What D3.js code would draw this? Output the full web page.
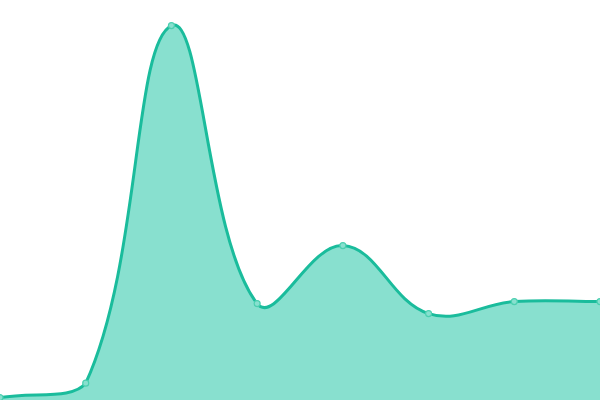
<!DOCTYPE html>
<html>
<head>
<meta charset="utf-8">
<script src="https://cdn.jsdelivr.net/npm/d3@7"></script>
<style>
  html, body { margin: 0; padding: 0; background: #fff; }
  svg { display: block; }
</style>
</head>
<body>
<div id="chart"></div>
<script>
// data
const categories = ["A", "B", "C", "D", "E", "F", "G", "H"];
const values = [0.6, 4.2, 93.6, 24.1, 38.6, 21.6, 24.6, 24.6];

(function(){
    const width = 600;
    const height = 400;

    // spline with distance weighted tangents, control points kept inside the plot
    // (no dip below the baseline at the first segment)
    function splineCurve(tension, yMin, yMax) {
        return function(context) {
            let pts, line;
            const clamp = v => Math.max(yMin, Math.min(yMax, v));
            return {
                areaStart() { line = 0; },
                areaEnd() { line = NaN; },
                lineStart() { pts = []; },
                point(x, y) { pts.push([+x, +y]); },
                lineEnd() {
                    const n = pts.length;
                    if (n) {
                        const cps = pts.map((p, i) => {
                            const prev = pts[Math.max(i - 1, 0)];
                            const next = pts[Math.min(i + 1, n - 1)];
                            const d01 = Math.hypot(p[0] - prev[0], p[1] - prev[1]);
                            const d12 = Math.hypot(next[0] - p[0], next[1] - p[1]);
                            let s01 = d01 / (d01 + d12), s12 = d12 / (d01 + d12);
                            if (isNaN(s01)) s01 = 0;
                            if (isNaN(s12)) s12 = 0;
                            const fa = tension * s01, fb = tension * s12;
                            return {
                                prev: [p[0] - fa * (next[0] - prev[0]), clamp(p[1] - fa * (next[1] - prev[1]))],
                                next: [p[0] + fb * (next[0] - prev[0]), clamp(p[1] + fb * (next[1] - prev[1]))]
                            };
                        });
                        if (line) context.lineTo(pts[0][0], pts[0][1]);
                        else context.moveTo(pts[0][0], pts[0][1]);
                        for (let i = 1; i < n; i++) {
                            context.bezierCurveTo(
                                cps[i - 1].next[0], cps[i - 1].next[1],
                                cps[i].prev[0], cps[i].prev[1],
                                pts[i][0], pts[i][1]);
                        }
                    }
                    if (line) context.closePath();
                    line = 1 - line;
                }
            };
        };
    }

    const svg = d3.select("#chart")
        .append("svg")
        .attr("width", width)
        .attr("height", height);

    const x = d3.scalePoint()
        .domain(categories)
        .range([0, width]);

    const y = d3.scaleLinear()
        .domain([0, 100])
        .range([height, 0]);

    const curve = splineCurve(0.4, 0, height);

    const area = d3.area()
        .x((d, i) => x(categories[i]))
        .y0(height)
        .y1(d => y(d))
        .curve(curve);

    const line = d3.line()
        .x((d, i) => x(categories[i]))
        .y(d => y(d))
        .curve(curve);

    svg.append("path")
        .datum(values)
        .attr("d", area)
        .attr("fill", "#88e0cf");

    svg.append("path")
        .datum(values)
        .attr("d", line)
        .attr("fill", "none")
        .attr("stroke", "#1abc9c")
        .attr("stroke-width", 3);

    svg.append("g")
        .selectAll("circle")
        .data(values)
        .join("circle")
        .attr("cx", (d, i) => x(categories[i]))
        .attr("cy", d => y(d))
        .attr("r", 3)
        .attr("fill", "#88e0cf")
        .attr("stroke", "#4ccfb0")
        .attr("stroke-width", 1.2);
})();
</script>
</body>
</html>
